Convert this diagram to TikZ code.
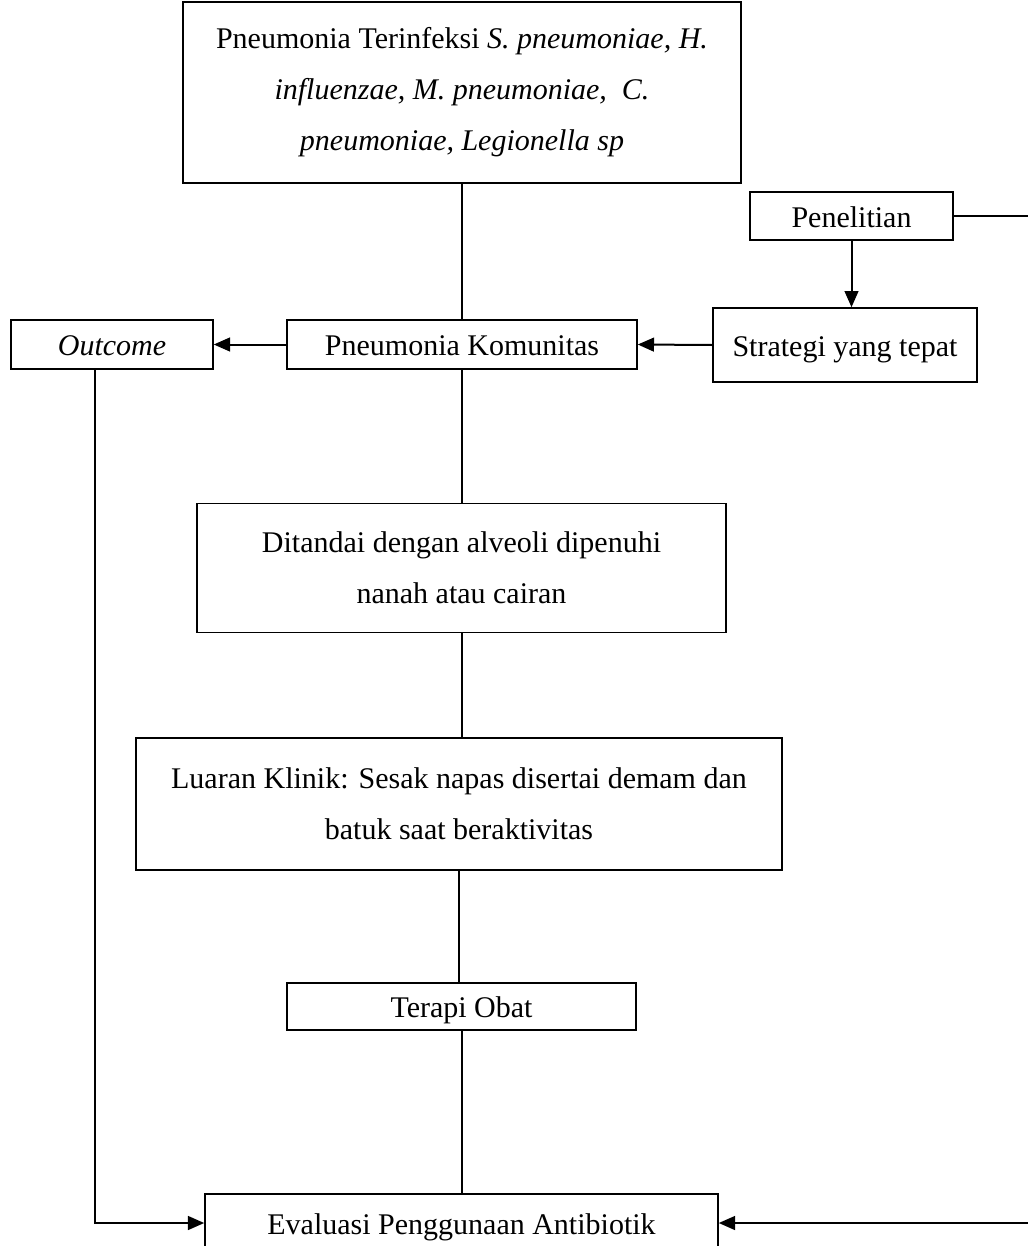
\documentclass[tikz,border=0pt]{standalone}
\usepackage{fontspec}
\setmainfont{Liberation Serif}
\usetikzlibrary{arrows.meta,calc}

\tikzset{
    kotak/.style={draw, line width=0.6pt, inner sep=0pt, align=center,
        font=\fontsize{12}{20.4}\selectfont},
    satu/.style={kotak, text height=1.1em, text depth=0.22em},
    panah/.style={line width=0.8pt, -{Triangle[length=6.5pt,width=5.5pt]}},
    garis/.style={line width=0.8pt}
}

\begin{document}
\begin{tikzpicture}[x=0.4pt,y=-0.4pt]
    \useasboundingbox (0,0) rectangle (1027,1246);

    % Kotak
    \node[kotak, minimum width=223.2pt, minimum height=72.4pt] (infeksi) at (462,92.5)
        {Pneumonia Terinfeksi \textit{S. pneumoniae, H.}\\
         \textit{influenzae, M. pneumoniae,\ \ C.}\\
         \textit{pneumoniae, Legionella sp}};
    \node[satu, minimum width=81.2pt, minimum height=19.2pt] (penelitian) at (851.5,216) {Penelitian};
    \node[satu, minimum width=105.6pt, minimum height=29.6pt] (strategi) at (845,345) {Strategi yang tepat};
    \node[satu, minimum width=140pt, minimum height=19.6pt] (komunitas) at (462,344.5) {Pneumonia Komunitas};
    \node[satu, minimum width=80.8pt, minimum height=19.6pt] (outcome) at (112,344.5) {\textit{Outcome}};
    \node[kotak, minimum width=211.6pt, minimum height=51.6pt] (ditandai) at (461.5,568)
        {Ditandai dengan alveoli dipenuhi\\ nanah atau cairan};
    \node[kotak, minimum width=258.4pt, minimum height=52.8pt] (luaran) at (459,804)
        {Luaran Klinik: Sesak napas disertai demam dan\\ batuk saat beraktivitas};
    \node[satu, minimum width=139.6pt, minimum height=18.8pt] (terapi) at (461.5,1006.5) {Terapi Obat};
    \node[satu, minimum width=205.2pt, minimum height=23.2pt] (evaluasi) at (461.5,1223) {Evaluasi Penggunaan Antibiotik};

    % Alur tengah
    \draw[garis] (infeksi.south) -- (infeksi.south |- komunitas.north);
    \draw[garis] (komunitas.south) -- (komunitas.south |- ditandai.north);
    \draw[garis] (ditandai.south) -- (ditandai.south |- luaran.north);
    \draw[garis] (luaran.south) -- (luaran.south |- terapi.north);
    \draw[garis] (terapi.south) -- (terapi.south |- evaluasi.north);

    % Panah samping
    \draw[panah] (penelitian.south) -- (penelitian.south |- strategi.north);
    \draw[panah] (strategi.west) -- (komunitas.east);
    \draw[panah] (komunitas.west) -- (outcome.east);
    \draw[panah] ($(outcome.south)+(-17,0)$) |- (evaluasi.west);
    \draw[panah] (penelitian.east) -| (1030,1223) -- (evaluasi.east);
\end{tikzpicture}
\end{document}
